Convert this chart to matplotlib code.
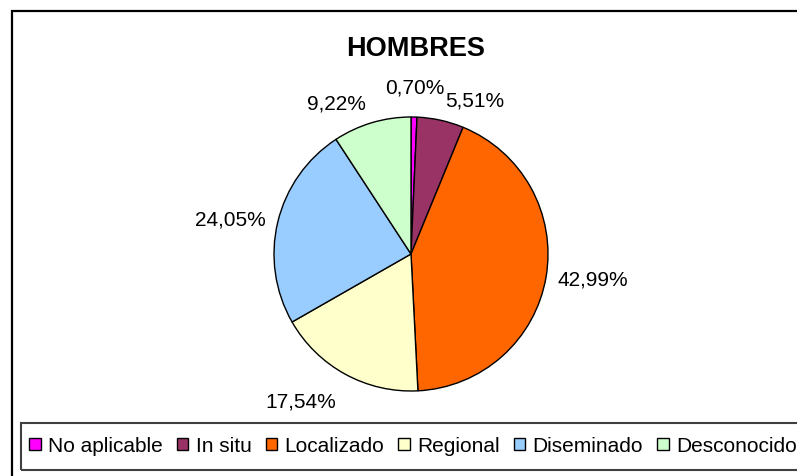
import numpy as np
import matplotlib
matplotlib.use('Agg')
from matplotlib import pyplot as plt
from matplotlib.patches import Rectangle

plt.rcParams['font.family'] = ['Liberation Sans', 'DejaVu Sans']

# data
categorias = ['No aplicable', 'In situ', 'Localizado', 'Regional', 'Diseminado', 'Desconocido']
valores = [0.70, 5.51, 42.99, 17.54, 24.05, 9.22]
colores = ['#FF00FF', '#993366', '#FF6600', '#FFFFCC', '#99CCFF', '#CCFFCC']
titulo = 'HOMBRES'

W, H = 797, 477
fig = plt.figure(figsize=(W/100, H/100), dpi=100)
fig.patch.set_facecolor('white')

# outer frame (only left and top visible, rest is cut off)
fig.add_artist(Rectangle((12/W, -0.5), 3, 1.5 - 12/H, transform=fig.transFigure,
                         fill=False, edgecolor='black', linewidth=1.6))

# pie axes, centre (411,255) radius 137 px
cx, cy, R = 411, 255, 137
ax = fig.add_axes([(cx-R)/W, (H-cy-R)/H, 2*R/W, 2*R/H])
wedges, _ = ax.pie(valores, colors=colores, startangle=90, counterclock=False,
                   wedgeprops=dict(edgecolor='black', linewidth=1.0))
ax.set_xlim(-1, 1)
ax.set_ylim(-1, 1)
ax.axis('off')

# percentage labels outside, Excel style
for w, v in zip(wedges, valores):
    ang = np.deg2rad((w.theta1 + w.theta2) / 2)
    c, s = np.cos(ang), np.sin(ang)
    d = 1.07 + 0.08*abs(s)
    ha = 'left' if c > 0.15 else ('right' if c < -0.15 else 'center')
    va = 'bottom' if s > 0.98 else ('top' if s < -0.8 else 'center')
    ax.text(d*c, d*s, f'{v:.2f}%'.replace('.', ','), ha=ha, va=va, fontsize=15)

fig.text(416/W, 1 - 49/H, titulo, ha='center', va='center',
         fontsize=19.5, fontweight='bold')

# legend box (runs off the right edge like the original)
fig.add_artist(Rectangle((21/W, 1 - 471/H), 2, 47/H, transform=fig.transFigure,
                         fill=False, edgecolor='#404040', linewidth=1.5))
leg = fig.legend(wedges, categorias, loc='center left', ncol=6,
                 bbox_to_anchor=(21/W, 1 - 447/H), borderaxespad=0,
                 fontsize=15, handlelength=0.55, handleheight=0.55,
                 handletextpad=0.35, columnspacing=0.68, borderpad=0.4,
                 frameon=False)

fig.savefig('out.png', dpi=100, facecolor='white')
